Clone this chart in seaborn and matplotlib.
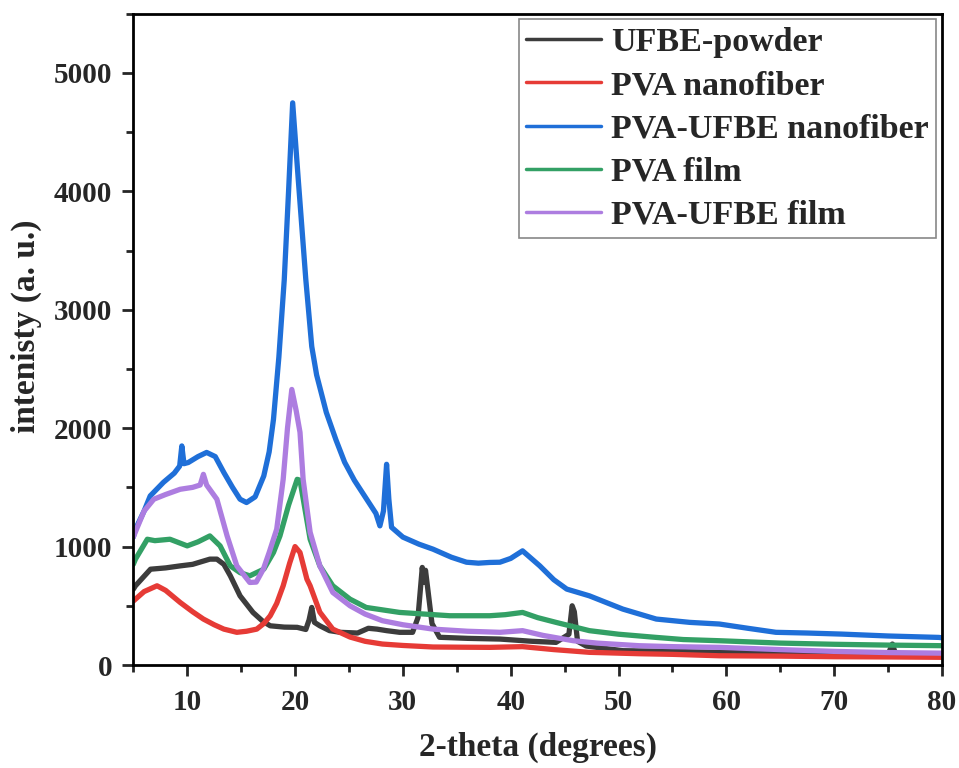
import numpy as np
import pandas as pd
import matplotlib
matplotlib.use("Agg")
import matplotlib.pyplot as plt
import seaborn as sns
from matplotlib.ticker import MultipleLocator

series_names = ["UFBE-powder", "PVA nanofiber", "PVA-UFBE nanofiber", "PVA film", "PVA-UFBE film"]
series_colors = ["#3c3c3c", "#e63b36", "#1f6fd8", "#33a065", "#ad7de0"]

ufbe_powder_x = [5, 5.2, 6.6, 8, 9.35, 10.5, 12.1, 12.75, 13.4, 14, 14.9, 16.1, 17, 17.7, 19, 20.2, 21.0, 21.3, 21.55, 21.8, 22.3, 23.2, 24.2, 25.8, 26.8, 27.6, 28.5, 29.7, 30.9, 31.4, 31.8, 31.95, 32.1, 32.7, 33.4, 36, 39, 42, 44.2, 45.4, 45.7, 45.9, 46.2, 47, 50.4, 55, 59.35, 65, 70, 75, 75.4, 75.7, 80]
ufbe_powder_y = [640, 669, 809, 820, 837, 850, 894, 894, 850, 753, 584, 444, 370, 331, 320, 318, 300, 380, 486, 360, 331, 290, 276, 270, 310, 303, 290, 276, 276, 400, 824, 700, 800, 350, 234, 225, 219, 200, 191, 260, 500, 450, 200, 160, 121, 115, 107, 100, 95, 90, 177, 90, 85]

pva_nanofiber_x = [5, 5.2, 6, 7.2, 8, 9.35, 10.5, 11.5, 12.5, 13.4, 14.6, 15.5, 16.45, 17.1, 17.7, 18.3, 18.9, 19.5, 20.0, 20.46, 21.1, 21.4, 22.3, 23.5, 25.1, 26.5, 28.1, 30, 32.8, 36, 38.05, 41.1, 44, 47.3, 52, 55, 59.35, 65, 70, 75, 80]
pva_nanofiber_y = [540, 556, 620, 669, 630, 528, 450, 388, 340, 303, 276, 285, 303, 350, 416, 520, 669, 860, 1000, 950, 725, 669, 446, 303, 236, 200, 177, 165, 152, 150, 149, 155, 130, 107, 95, 90, 78, 75, 70, 68, 65]

pva_ufbe_nanofiber_x = [5, 5.2, 6, 6.57, 7.8, 8.8, 9.3, 9.5, 9.7, 10.1, 11, 11.8, 12.6, 13.4, 14.2, 14.9, 15.5, 16.3, 17.1, 17.6, 18.0, 18.5, 19.0, 19.4, 19.78, 20.3, 21.0, 21.55, 22.0, 22.9, 23.8, 24.6, 25.5, 26.5, 27.5, 27.87, 28.2, 28.49, 28.7, 28.95, 30, 31.5, 32.8, 34.5, 35.9, 37, 38.05, 39, 40, 41.1, 42.7, 44, 45.2, 47.3, 50.4, 53.5, 56.6, 59.35, 62, 64.6, 67.5, 70.7, 75, 79.7, 80]
pva_ufbe_nanofiber_y = [1080, 1147, 1300, 1428, 1543, 1620, 1680, 1850, 1700, 1710, 1760, 1795, 1760, 1625, 1500, 1400, 1372, 1420, 1596, 1800, 2074, 2600, 3254, 4000, 4747, 4098, 3254, 2690, 2450, 2133, 1900, 1712, 1560, 1420, 1280, 1175, 1300, 1695, 1400, 1163, 1080, 1020, 978, 910, 868, 860, 866, 868, 900, 964, 837, 720, 641, 584, 472, 388, 360, 346, 310, 276, 270, 261, 245, 233, 230]

pva_film_x = [5, 5.2, 6.3, 7, 8.4, 10, 11, 12.1, 13.05, 14, 14.9, 15.8, 17.1, 18, 18.6, 19.4, 20.2, 20.46, 21.4, 22.3, 23.5, 25.1, 26.6, 29.7, 34.35, 38.05, 39.5, 41.1, 42.5, 44.2, 47.3, 50, 53.5, 56, 59.35, 65, 70, 75, 80]
pva_film_y = [850, 894, 1062, 1050, 1062, 1006, 1040, 1090, 1006, 837, 780, 753, 809, 950, 1090, 1350, 1568, 1560, 1062, 837, 669, 556, 486, 444, 416, 416, 425, 444, 400, 360, 290, 260, 233, 215, 205, 185, 175, 168, 163]

pva_ufbe_film_x = [5, 5.3, 6, 6.9, 8, 9.35, 10.5, 11.2, 11.5, 11.8, 12.75, 13.7, 14.6, 15.8, 16.4, 17.06, 17.6, 18.3, 18.9, 19.3, 19.7, 20.1, 20.46, 20.75, 21.4, 22.3, 23.5, 25.1, 26.5, 28.1, 30, 32.8, 36, 39, 41.1, 43, 45.8, 48, 51.9, 55, 59.35, 65, 70, 75, 80]
pva_ufbe_film_y = [1080, 1147, 1300, 1400, 1440, 1484, 1500, 1520, 1610, 1520, 1400, 1090, 837, 697, 700, 809, 950, 1147, 1568, 2000, 2327, 2150, 1965, 1568, 1121, 837, 613, 500, 430, 374, 340, 303, 285, 276, 290, 250, 205, 185, 163, 155, 149, 130, 115, 105, 100]

x_ticks = [10, 20, 30, 40, 50, 60, 70, 80]
y_ticks = [0, 1000, 2000, 3000, 4000, 5000]

frames = []
for name, xs, ys in zip(series_names,
                        [ufbe_powder_x, pva_nanofiber_x, pva_ufbe_nanofiber_x, pva_film_x, pva_ufbe_film_x],
                        [ufbe_powder_y, pva_nanofiber_y, pva_ufbe_nanofiber_y, pva_film_y, pva_ufbe_film_y]):
    frames.append(pd.DataFrame({"x": xs, "y": ys, "series": name}))
df = pd.concat(frames, ignore_index=True)

sns.set_style("ticks")
plt.rcParams['font.family'] = ['Liberation Serif', 'DejaVu Serif']
plt.rcParams['font.weight'] = 'bold'

fig = plt.figure(figsize=(9.59, 7.68), dpi=100)
ax = fig.add_axes([133.3 / 959, 1 - 665 / 768, (942 - 133.3) / 959, (665 - 13.7) / 768])

sns.lineplot(data=df, x="x", y="y", hue="series", hue_order=series_names,
             palette=series_colors, linewidth=3.8, ax=ax, sort=False, estimator=None)

ax.set_xlim(5, 80)
ax.set_ylim(0, 5500)
ax.set_xticks(x_ticks)
ax.set_yticks(y_ticks)
ax.xaxis.set_minor_locator(MultipleLocator(5))
ax.yaxis.set_minor_locator(MultipleLocator(500))
ax.tick_params(axis='both', which='major', direction='out', length=8, width=2, labelsize=21)
ax.tick_params(axis='x', which='major', pad=9)
ax.tick_params(axis='y', which='major', pad=7)
ax.tick_params(axis='both', which='minor', direction='out', length=5, width=2)
for lab in ax.get_xticklabels() + ax.get_yticklabels():
    lab.set_fontweight('bold')
for sp in ax.spines.values():
    sp.set_visible(True)
    sp.set_linewidth(2)
    sp.set_color('black')

ax.set_xlabel("2-theta (degrees)", fontsize=24, fontweight='bold')
ax.set_ylabel("intenisty (a. u.)", fontsize=24, fontweight='bold')
ax.xaxis.set_label_coords(0.5, -0.103)
ax.yaxis.set_label_coords(-0.113, 0.52)

leg = ax.legend(loc='upper right', frameon=True, fancybox=False,
                edgecolor='#888888', framealpha=1, handlelength=2.2,
                borderaxespad=0.17, borderpad=0.22, labelspacing=0.36, handletextpad=0.3,
                prop={'weight': 'bold', 'size': 24.5})
leg.get_frame().set_linewidth(1.2)
for line in leg.get_lines():
    line.set_linewidth(2.5)

fig.savefig("out.png", dpi=100)
